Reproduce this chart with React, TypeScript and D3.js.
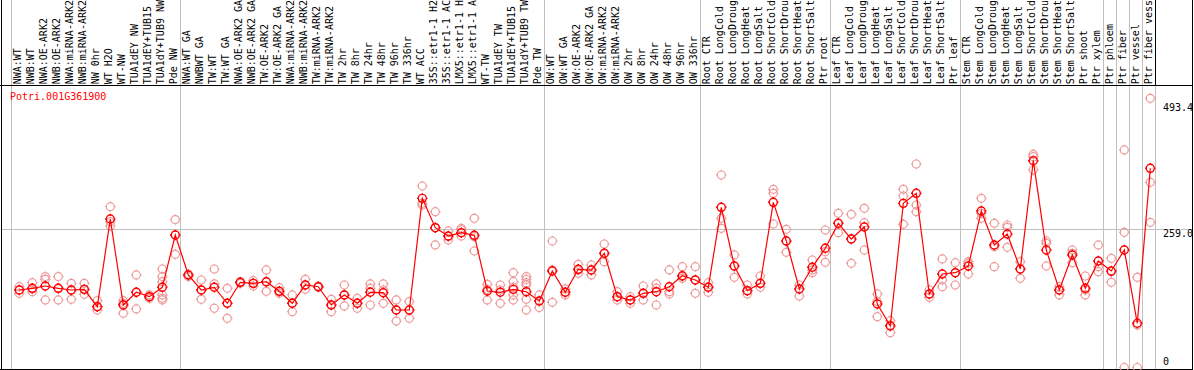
import React from "react";
import * as d3 from "d3";

const geneName = "Potri.001G361900";

// sample labels as shown (the chart shows at most 14 characters per label)
const sampleLabels: string[] = [
  "NWA:WT", "NWB:WT", "NWA:OE-ARK2", "NWB:OE-ARK2", "NWA:miRNA-ARK2", "NWB:miRNA-ARK2",
  "NW 0hr", "WT H2O", "WT-NW", "TUA1dEY NW", "TUA1dEY+TUB15", "TUA1dY+TUB9 NW", "Pde NW",
  "NWA:WT GA", "NWBWT GA", "TW:WT", "TW:WT GA", "NWA:OE-ARK2 GA", "NWB:OE-ARK2 GA",
  "TW:OE-ARK2", "TW:OE-ARK2 GA", "NWA:miRNA-ARK2", "NWB:miRNA-ARK2", "TW:miRNA-ARK2",
  "TW:miRNA-ARK2", "TW 2hr", "TW 8hr", "TW 24hr", "TW 48hr", "TW 96hr", "TW 336hr",
  "WT ACC", "35S::etr1-1 H2", "35S::etr1-1 AC", "LMX5::etr1-1 H", "LMX5::etr1-1 A",
  "WT-TW", "TUA1dEY TW", "TUA1dEY+TUB15", "TUA1dY+TUB9 TW", "Pde TW",
  "OW:WT", "OW:WT GA", "OW:OE-ARK2", "OW:OE-ARK2 GA", "OW:miRNA-ARK2", "OW:miRNA-ARK2",
  "OW 2hr", "OW 8hr", "OW 24hr", "OW 48hr", "OW 96hr", "OW 336hr",
  "Root CTR", "Root LongCold", "Root LongDroug", "Root LongHeat", "Root LongSalt",
  "Root ShortCold", "Root ShortDrou", "Root ShortHeat", "Root ShortSalt", "Ptr root",
  "Leaf CTR", "Leaf LongCold", "Leaf LongDroug", "Leaf LongHeat", "Leaf LongSalt",
  "Leaf ShortCold", "Leaf ShortDrou", "Leaf ShortHeat", "Leaf ShortSalt", "Ptr leaf",
  "Stem CTR", "Stem LongCold", "Stem LongDroug", "Stem LongHeat", "Stem LongSalt",
  "Stem ShortCold", "Stem ShortDrou", "Stem ShortHeat", "Stem ShortSalt", "Ptr shoot", "Ptr xylem",
  "Ptr phloem", "Ptr fiber", "Ptr vessel", "Ptr fiber vess",
];

const meanValues: number[] = [
  144.5, 147.6, 151.9, 147.6, 144.5, 145.7, 113.3, 276.8, 116.5, 140.2, 132, 149.5, 247,
  172.4, 144.5, 149.5, 119.7, 158.8, 156.9, 159.9, 142, 119.7, 153.8, 150.6, 116.5, 135.1,
  119.7, 140.2, 139.4, 107.2, 107.2, 315.3, 260.6, 245.1, 251.3, 246.4, 142.6, 140.2, 145.7,
  141.3, 124,
  179.9, 140.2, 183, 181.7, 212.9, 132, 125.8, 138.3, 141.3, 150.6, 171.1, 163.1,
  149.5, 298.6, 189.2, 143.2, 156.9, 307.9, 235.8, 146.3, 186.8, 222.2,
  268.8, 239.5, 261.9, 118.4, 77.4, 306, 324.7, 137, 174.3, 176.7,
  189.2, 291.7, 228.3, 248.8, 183.6, 385.5, 219, 144.5, 209.7, 147.6, 198.5,
  179.9, 219, 82.4, 371.3,
];

const replicateValues: number[][] = [
  [150.7, 138.3, 144.5], [158.2, 141.4, 146.4], [169.4, 164.4, 125.9], [169.4, 125.9, 147.6],
  [156.9, 127.1, 144.5], [156.9, 136.4, 145.7], [124.6, 107.2, 113.5], [299.8, 263.8, 271.9],
  [124.6, 101, 119.6], [172.5, 109.1, 140.2], [135.2, 129, 132],
  [183.6, 169.4, 160, 135.2, 129, 125.9], [275.7, 211, 247],
  [172.5, 169.4, 174.3], [163.1, 127.1, 144.5], [183.6, 110.4, 155.7], [147.6, 91.6, 119.6],
  [160, 158.2, 156.9], [161.9, 151.9, 156.9], [181.8, 142, 160], [148.8, 138.3, 142],
  [135.2, 104.1, 119.6], [164.4, 145.7, 153.8], [150.7, 151.9, 149.5], [127.1, 104.1, 116.5],
  [153.8, 114.7, 135.2], [129, 110.4, 119.6], [155.7, 116.5, 147.6], [155.7, 119.6, 144.5],
  [125.9, 86.6, 107.2], [122.8, 91.6, 107.2], [338.3, 302.9, 306], [290.5, 228.4, 260.6],
  [254.5, 243.9, 237.7], [259.4, 256.3, 245.1], [278.1, 217.2, 243.9], [155.1, 125.9, 145.7],
  [153.8, 119.6, 144.5], [176.8, 160, 150, 135.2, 125.9], [169.4, 164, 158.2, 154, 127.1, 107.2],
  [135.2, 111.7, 124],
  [235.8, 121.5, 181.8], [146.4, 135.2, 140.2], [192.3, 175.6, 181.8], [191.1, 172.5, 181.8],
  [230.2, 197.3, 212.8], [141.4, 125.9, 132], [132, 119.6, 125.8], [151.9, 125.9, 138.3],
  [155.7, 116.5, 147.6], [181.8, 137, 141.4], [188, 166.2, 169.4], [188, 138.3, 163.1],
  [158.2, 140.2, 149.5], [358.8, 278.1, 259.4], [209.8, 168.1, 189.2], [153.8, 137, 143.2],
  [170.6, 149.5, 156.9], [332.1, 324.7, 267.5], [257.5, 214.7, 235.8], [153.8, 133.3, 146.4],
  [200.4, 176.8, 181.8], [256.3, 196.1, 215.9],
  [287.4, 251.4, 268.8], [285.5, 194.2, 239.6], [296.7, 270, 219], [137, 94.8, 122.8],
  [87.3, 65, 79.2], [332.1, 319.7, 266.9], [379.3, 302.9, 290.5], [137, 144.5, 130.8],
  [202.3, 150.7, 163.1], [195.4, 153.8, 176.8],
  [197.3, 174.3, 194.2], [315.4, 278.1, 287.4], [268.8, 225.3, 188], [265.6, 261.3, 224],
  [197.3, 166.2, 183.6], [397.4, 393, 368.2], [235.8, 189.2, 231.5], [150.7, 135.2, 144.5],
  [219, 195.4, 212.8], [170.6, 135.2, 144.5], [228.4, 178.7, 188],
  [203.5, 158.8, 178.7], [405.5, 252, 0], [168.1, 0, 79], [501.8, 345.2, 270.6],
];

// group boundaries (index of first sample of each group, plus the end)
const groupStarts: number[] = [0, 13, 41, 53, 63, 73, 84, 85, 86, 87, 88];

const axisTicks: number[] = [493.4, 259.0, 0];

const W = 1194;
const H = 370;
const FONT = "'DejaVu Sans Mono', monospace";

export default function App() {
  const x = d3.scaleLinear().domain([0, 87]).range([19.3, 1150.3]);
  const y = d3.scaleLinear().domain([0, 493.4]).range([367.5, 102.8]);
  const boundaryX = (k: number) => x(k) - 8.4;

  const line = d3
    .line<number>()
    .x((_, i) => x(i))
    .y((d) => y(d));

  const ticks = (cx: number, cy: number, r: number) =>
    `M${cx},${cy - r}v-1.2M${cx},${cy + r}v1.2M${cx - r},${cy}h-1.2M${cx + r},${cy}h1.2`;

  return (
    <svg
      width={W}
      height={H}
      style={{ position: "absolute", left: 0, top: 0, background: "#fff" }}
      fontFamily={FONT}
      fontSize={10}
    >
      <rect x={0} y={0} width={W} height={H} fill="#fff" />
      {/* horizontal gridline */}
      <line x1={1} x2={1192} y1={Math.round(y(259.0)) + 0.5} y2={Math.round(y(259.0)) + 0.5} stroke="#c0c0c0" />
      {/* group separators */}
      {groupStarts.map((k) => (
        <line
          key={"g" + k}
          x1={Math.round(boundaryX(k)) + 0.5}
          x2={Math.round(boundaryX(k)) + 0.5}
          y1={0}
          y2={H}
          stroke="#c0c0c0"
        />
      ))}
      <line x1={1155.5} x2={1155.5} y1={0} y2={85} stroke="#000" />
      {/* sample labels */}
      {sampleLabels.map((s, i) => (
        <text
          key={"l" + i}
          transform={`translate(${x(i) + 2},84.3) rotate(-90)`}
          fill="#000"
        >
          {s}
        </text>
      ))}
      {/* frame */}
      <line x1={0} x2={1193} y1={85.5} y2={85.5} stroke="#000" />
      <line x1={1.5} x2={1.5} y1={0} y2={369} stroke="#000" />
      <line x1={0} x2={1193} y1={369.5} y2={369.5} stroke="#000" />
      <line x1={1192.5} x2={1192.5} y1={0} y2={370} stroke="#000" />
      {/* replicate points */}
      {replicateValues.map((reps, i) =>
        reps.map((v, j) => (
          <g key={`r${i}-${j}`} stroke="#ee9a9a" strokeWidth={1.2} fill="none">
            <circle cx={x(i)} cy={y(v)} r={4} />
            <path d={ticks(x(i), y(v), 4)} />
          </g>
        ))
      )}
      {/* mean line */}
      <path d={line(meanValues) || ""} fill="none" stroke="#ff0000" strokeWidth={1.2} />
      {meanValues.map((v, i) => (
        <g key={"m" + i} stroke="#ff0000" strokeWidth={1.4} fill="none">
          <circle cx={x(i)} cy={y(v)} r={4} />
          <path d={ticks(x(i), y(v), 4)} />
        </g>
      ))}
      {/* title */}
      <text x={10} y={100} fill="#ff0000">
        {geneName}
      </text>
      {/* right axis labels */}
      {axisTicks.map((t) => (
        <text key={"t" + t} x={1163} y={Math.min(y(t) + 8, 365)} fill="#000">
          {t === 0 ? "0" : t.toFixed(1)}
        </text>
      ))}
    </svg>
  );
}
